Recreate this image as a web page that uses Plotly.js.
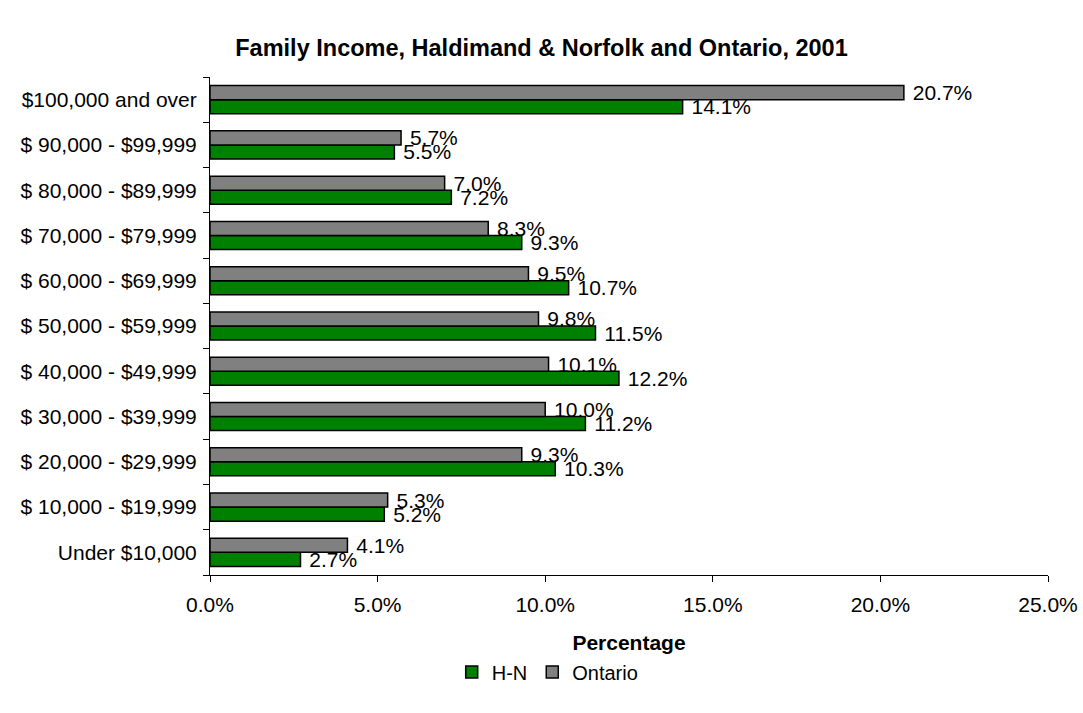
<!DOCTYPE html>
<html>
<head>
<meta charset="utf-8">
<script src="https://cdn.plot.ly/plotly-3.0.1.min.js"></script>
<style>html,body{margin:0;padding:0;background:#fff;}#chart{width:1083px;height:713px;}</style>
</head>
<body>
<div id="chart"></div>
<script>
const categories = ["Under $10,000", "$ 10,000 - $19,999", "$ 20,000 - $29,999", "$ 30,000 - $39,999", "$ 40,000 - $49,999", "$ 50,000 - $59,999", "$ 60,000 - $69,999", "$ 70,000 - $79,999", "$ 80,000 - $89,999", "$ 90,000 - $99,999", "$100,000 and over"];
const hnValues = [2.7, 5.2, 10.3, 11.2, 12.2, 11.5, 10.7, 9.3, 7.2, 5.5, 14.1];
const ontarioValues = [4.1, 5.3, 9.3, 10.0, 10.1, 9.8, 9.5, 8.3, 7.0, 5.7, 20.7];
const xTickValues = [0, 5, 10, 15, 20, 25];

const FONT = "Liberation Sans, Arial, sans-serif";
const labelFont = {family: FONT, size: 21, color: "#000"};

function trace(name, values, color) {
  return {
    type: "bar", orientation: "h", name: name,
    y: categories, x: values,
    marker: {color: color, line: {color: "#000", width: 1.5}},
    text: values.map(v => "\u00A0" + v.toFixed(1) + "%"),
    textposition: "outside", constraintext: "none", cliponaxis: false,
    textfont: labelFont, hoverinfo: "skip"
  };
}

const data = [trace("H-N", hnValues, "#008000"), trace("Ontario", ontarioValues, "#808080")];

const layout = {
  width: 1083, height: 713,
  margin: {l: 210, r: 35, t: 77, b: 138},
  paper_bgcolor: "#fff", plot_bgcolor: "#fff",
  barmode: "group", bargap: 0.38, bargroupgap: 0,
  font: {family: FONT, size: 21, color: "#000"},
  title: {text: "<b>Family Income, Haldimand & Norfolk and Ontario, 2001</b>", x: 0.5, xanchor: "center", y: 0.933, yanchor: "middle", font: {family: FONT, size: 23.5, color: "#000"}},
  xaxis: {range: [0, 25], tickvals: xTickValues, ticktext: xTickValues.map(v => v.toFixed(1) + "%"),
    showgrid: false, zeroline: false, showline: true, linecolor: "#000", linewidth: 1,
    ticks: "outside", ticklen: 6, tickcolor: "#000", ticklabelstandoff: 5, tickfont: {family: FONT, size: 21},
    title: {text: "<b>Percentage</b>", font: {family: FONT, size: 21}, standoff: 20}},
  yaxis: {type: "category", showgrid: false, zeroline: false, showline: true, linecolor: "#000", linewidth: 1,
    ticks: "outside", ticklen: 6, tickcolor: "#000", tickson: "boundaries", ticklabelstandoff: 8, tickfont: {family: FONT, size: 21}},
  legend: {orientation: "h", x: 0.403, xref: "paper", xanchor: "center", y: -0.195, yanchor: "middle",
    font: {family: FONT, size: 20}, traceorder: "normal", itemwidth: 30},
  showlegend: true
};

Plotly.newPlot("chart", data, layout, {displayModeBar: false, staticPlot: true});
</script>
</body>
</html>
